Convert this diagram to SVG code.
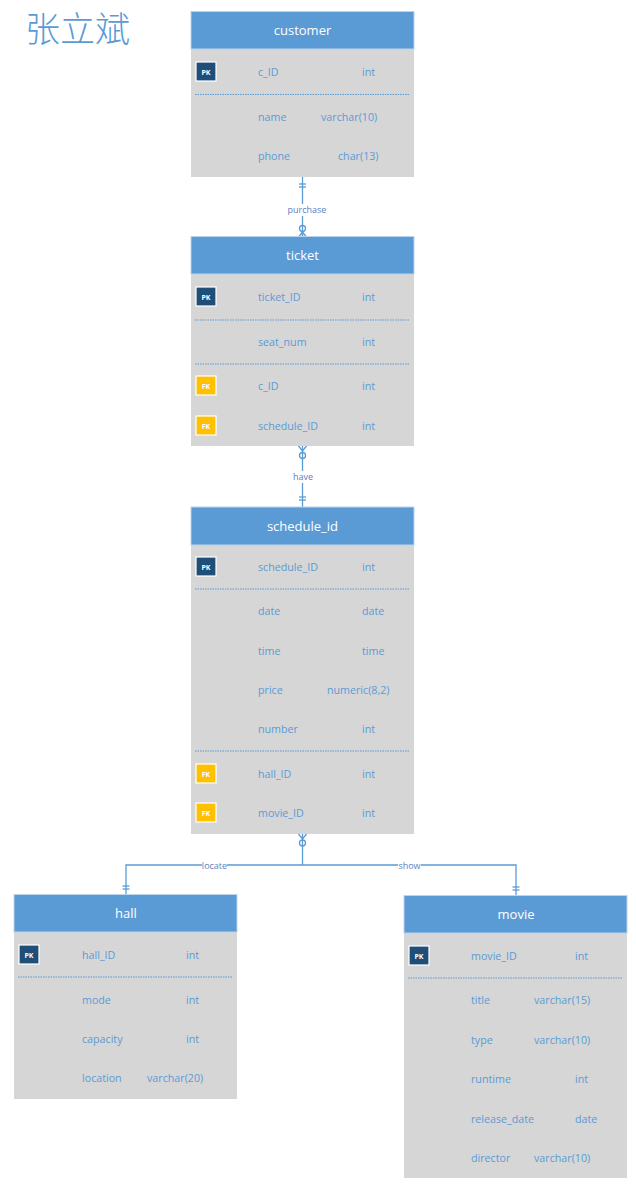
<svg xmlns="http://www.w3.org/2000/svg" width="636" height="1189" viewBox="0 0 636 1189">
<style>
.hdr{fill:#5b9bd5;stroke:#bcd4ec;stroke-width:1}
.body{fill:#d6d6d6}
.ht{font-family:"Open Sans","Noto Sans",sans-serif;font-size:13px;fill:#ffffff;text-anchor:middle}
.ft{font-family:"Open Sans","Noto Sans",sans-serif;font-size:10.7px;fill:#5b9bd5}
.pk{fill:#1f4e79;stroke:#ffffff;stroke-width:1.2}
.fk{fill:#ffc000;stroke:#ffffff;stroke-width:1.2}
.kt{font-family:"Open Sans","Noto Sans",sans-serif;font-size:7px;fill:#ffffff;text-anchor:middle;font-weight:bold}
.dot{stroke:#5b9bd5;stroke-width:1;stroke-dasharray:1.5,1}
.ln{stroke:#5b9bd5;stroke-width:1.3;fill:none}
.lbl{font-family:"Open Sans","Noto Sans",sans-serif;font-size:9px;fill:#5b7fc0;text-anchor:middle}
</style>
<rect width="636" height="1189" fill="#ffffff"/>
<text x="25" y="42" font-family="Noto Sans CJK SC,sans-serif" font-size="35" font-weight="300" fill="#5b9bd5">张立斌</text>

<g id="connectors">
  <!-- customer - ticket -->
  <line class="ln" x1="302.5" y1="177" x2="302.5" y2="237"/>
  <line class="ln" x1="299" y1="184" x2="306" y2="184"/>
  <line class="ln" x1="299" y1="187" x2="306" y2="187"/>
  <circle class="ln" cx="302.5" cy="228.5" r="3" fill="#ffffff"/>
  <path class="ln" d="M298.5,237 L302.5,232 L306.5,237 M302.5,232 L302.5,237"/>
  <rect x="286" y="204" width="42" height="12" fill="#ffffff"/>
  <text class="lbl" x="307" y="213">purchase</text>
  <!-- ticket - schedule -->
  <line class="ln" x1="302.5" y1="446" x2="302.5" y2="507"/>
  <path class="ln" d="M298.5,446 L302.5,451 L306.5,446"/>
  <circle class="ln" cx="302.5" cy="455.5" r="3" fill="#ffffff"/>
  <line class="ln" x1="299" y1="497" x2="306" y2="497"/>
  <line class="ln" x1="299" y1="500" x2="306" y2="500"/>
  <rect x="291" y="471" width="24" height="12" fill="#ffffff"/>
  <text class="lbl" x="303" y="480">have</text>
  <!-- schedule - hall / movie -->
  <path class="ln" d="M302.5,834 L302.5,865 M126,895 L126,865 L516,865 L516,896"/>
  <path class="ln" d="M298.5,834 L302.5,839 L306.5,834"/>
  <circle class="ln" cx="302.5" cy="843" r="3" fill="#ffffff"/>
  <line class="ln" x1="122.5" y1="886" x2="129.5" y2="886"/>
  <line class="ln" x1="122.5" y1="889" x2="129.5" y2="889"/>
  <line class="ln" x1="512.5" y1="887" x2="519.5" y2="887"/>
  <line class="ln" x1="512.5" y1="890" x2="519.5" y2="890"/>
  <rect x="202" y="860" width="25" height="11" fill="#ffffff"/>
  <text class="lbl" x="214.5" y="868.5">locate</text>
  <rect x="398" y="860" width="23" height="11" fill="#ffffff"/>
  <text class="lbl" x="409.5" y="868.5">show</text>
</g>

<g id="customer">
  <rect class="body" x="191" y="49" width="223" height="128"/>
  <rect class="hdr" x="191" y="11.5" width="223" height="37.5"/>
  <text class="ht" x="302.5" y="35">customer</text>
  <rect class="pk" x="196" y="62" width="20" height="19"/>
  <text class="kt" x="206" y="74.5">PK</text>
  <text class="ft" x="258" y="76">c_ID</text><text class="ft" x="362" y="76">int</text>
  <line class="dot" x1="195" y1="94.5" x2="409" y2="94.5"/>
  <text class="ft" x="258" y="121">name</text><text class="ft" x="321" y="121">varchar(10)</text>
  <text class="ft" x="258" y="160">phone</text><text class="ft" x="338" y="160">char(13)</text>
</g>

<g id="ticket">
  <rect class="body" x="191" y="274" width="223" height="172"/>
  <rect class="hdr" x="191" y="236.5" width="223" height="37.5"/>
  <text class="ht" x="302.5" y="260">ticket</text>
  <rect class="pk" x="196" y="287" width="20" height="19"/>
  <text class="kt" x="206" y="299.5">PK</text>
  <text class="ft" x="258" y="301">ticket_ID</text><text class="ft" x="362" y="301">int</text>
  <line class="dot" x1="195" y1="320" x2="409" y2="320"/>
  <text class="ft" x="258" y="346">seat_num</text><text class="ft" x="362" y="346">int</text>
  <line class="dot" x1="195" y1="364" x2="409" y2="364"/>
  <rect class="fk" x="196" y="376" width="20" height="19"/>
  <text class="kt" x="206" y="388.5">FK</text>
  <text class="ft" x="258" y="390">c_ID</text><text class="ft" x="362" y="390">int</text>
  <rect class="fk" x="196" y="416" width="20" height="19"/>
  <text class="kt" x="206" y="428.5">FK</text>
  <text class="ft" x="258" y="430">schedule_ID</text><text class="ft" x="362" y="430">int</text>
</g>

<g id="schedule_id">
  <rect class="body" x="191" y="545" width="223" height="289"/>
  <rect class="hdr" x="191" y="507" width="223" height="38"/>
  <text class="ht" x="302.5" y="531">schedule_id</text>
  <rect class="pk" x="196" y="557" width="20" height="19"/>
  <text class="kt" x="206" y="569.5">PK</text>
  <text class="ft" x="258" y="571">schedule_ID</text><text class="ft" x="362" y="571">int</text>
  <line class="dot" x1="195" y1="589" x2="409" y2="589"/>
  <text class="ft" x="258" y="615">date</text><text class="ft" x="362" y="615">date</text>
  <text class="ft" x="258" y="655">time</text><text class="ft" x="362" y="655">time</text>
  <text class="ft" x="258" y="694">price</text><text class="ft" x="327" y="694">numeric(8,2)</text>
  <text class="ft" x="258" y="733">number</text><text class="ft" x="362" y="733">int</text>
  <line class="dot" x1="195" y1="751" x2="409" y2="751"/>
  <rect class="fk" x="196" y="764" width="20" height="19"/>
  <text class="kt" x="206" y="776.5">FK</text>
  <text class="ft" x="258" y="778">hall_ID</text><text class="ft" x="362" y="778">int</text>
  <rect class="fk" x="196" y="803" width="20" height="19"/>
  <text class="kt" x="206" y="815.5">FK</text>
  <text class="ft" x="258" y="817">movie_ID</text><text class="ft" x="362" y="817">int</text>
</g>

<g id="hall">
  <rect class="body" x="14" y="932" width="223" height="167"/>
  <rect class="hdr" x="14" y="894.5" width="223" height="37.5"/>
  <text class="ht" x="126" y="918">hall</text>
  <rect class="pk" x="19" y="945" width="20" height="19"/>
  <text class="kt" x="29" y="957.5">PK</text>
  <text class="ft" x="82" y="959">hall_ID</text><text class="ft" x="186" y="959">int</text>
  <line class="dot" x1="18" y1="977" x2="232" y2="977"/>
  <text class="ft" x="82" y="1004">mode</text><text class="ft" x="186" y="1004">int</text>
  <text class="ft" x="82" y="1043">capacity</text><text class="ft" x="186" y="1043">int</text>
  <text class="ft" x="82" y="1082">location</text><text class="ft" x="147" y="1082">varchar(20)</text>
</g>

<g id="movie">
  <rect class="body" x="404" y="933" width="223" height="245"/>
  <rect class="hdr" x="404" y="895.5" width="223" height="37.5"/>
  <text class="ht" x="516" y="919">movie</text>
  <rect class="pk" x="409" y="946" width="20" height="19"/>
  <text class="kt" x="419" y="958.5">PK</text>
  <text class="ft" x="471" y="960">movie_ID</text><text class="ft" x="575" y="960">int</text>
  <line class="dot" x1="408" y1="978" x2="622" y2="978"/>
  <text class="ft" x="471" y="1004">title</text><text class="ft" x="534" y="1004">varchar(15)</text>
  <text class="ft" x="471" y="1044">type</text><text class="ft" x="534" y="1044">varchar(10)</text>
  <text class="ft" x="471" y="1083">runtime</text><text class="ft" x="575" y="1083">int</text>
  <text class="ft" x="471" y="1123">release_date</text><text class="ft" x="575" y="1123">date</text>
  <text class="ft" x="471" y="1162">director</text><text class="ft" x="534" y="1162">varchar(10)</text>
</g>
</svg>
